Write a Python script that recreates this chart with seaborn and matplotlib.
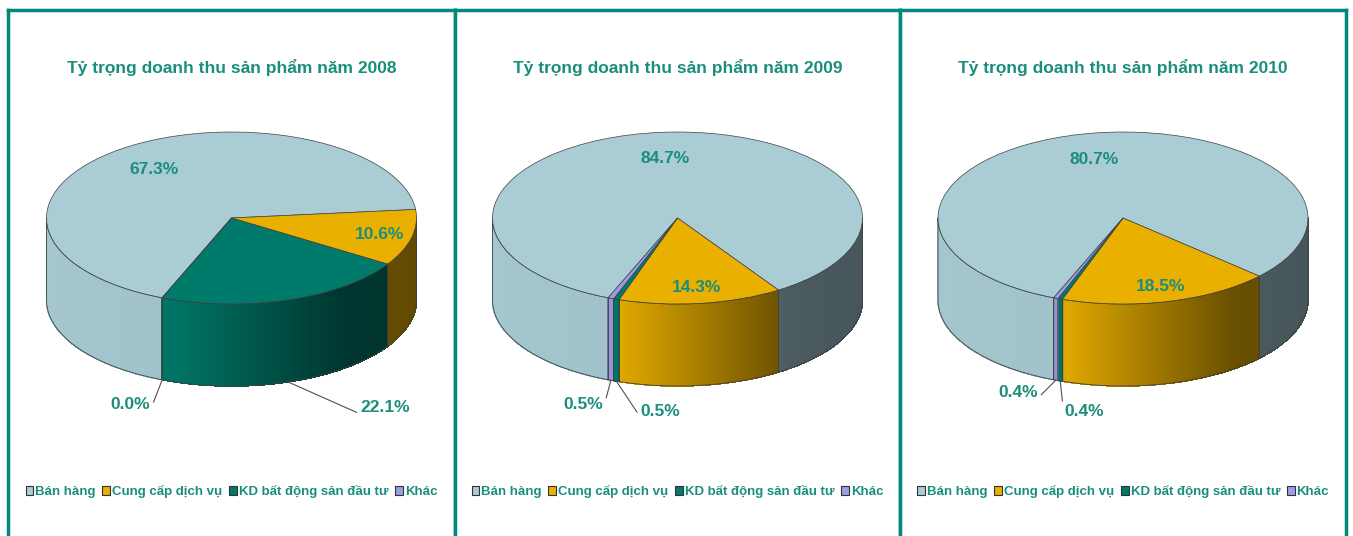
"""
Tỷ trọng doanh thu sản phẩm 2008 - 2010 : trois camemberts 3D côte à côte
"""

import numpy as np
import matplotlib
matplotlib.use("Agg")
import matplotlib.pyplot as plt
import seaborn as sns
from matplotlib.patches import Patch, Polygon
from matplotlib.collections import PolyCollection

# === Données ===
nam = ["2008", "2009", "2010"]
nhom = ["Bán hàng", "Cung cấp dịch vụ", "KD bất động sản đầu tư", "Khác"]
ty_trong_2008 = [67.3, 10.6, 22.1, 0.0]
ty_trong_2009 = [84.7, 14.3, 0.5, 0.5]
ty_trong_2010 = [80.7, 18.5, 0.4, 0.4]
series = [ty_trong_2008, ty_trong_2009, ty_trong_2010]

# === Style ===
mau = ["#A9CCD5", "#EAB000", "#007A6A", "#9C9CE8"]
mau_chu = "#1A8E7D"
mau_khung = "#00897B"

sns.set_theme(style="white")
plt.rcParams["font.family"] = ["Liberation Sans", "DejaVu Sans"]

W, H = 1353, 536
RX, RY = 185.0, 86.0        # rayons de l'ellipse en pixels
CY = 218                    # centre vertical des camemberts (px depuis le haut)
TOP = 10
DEPTH = 82 / RY             # épaisseur du camembert
START = 248
panels = [(8, 455), (455, 900), (900, 1346)]

# rayon des étiquettes internes, décalages des étiquettes externes (px)
r_nhan = [0.70, 0.82]
leader = {
    "2008": [(72, -26), (-12, -25)],
    "2009": [(24, -30), (-8, -24)],
    "2010": [(4, -31), (-18, -12)],
}


def shade(x):
    return np.interp(x, [-1, -0.3, 0.6, 1], [0.97, 0.95, 0.45, 0.42])


fig = plt.figure(figsize=(W / 100, H / 100), dpi=100)

for i, (year, vals) in enumerate(zip(nam, series)):
    x0, x1 = panels[i]
    ax = fig.add_axes([x0 / W, 0, (x1 - x0) / W, (H - TOP) / H])

    # angles de chaque part (sens horaire depuis START)
    fr = np.array(vals) / sum(vals)
    bornes = START - 360 * np.concatenate([[0], np.cumsum(fr)])

    # --- parois latérales (partie avant) ---
    for k in range(len(vals)):
        hi, lo = bornes[k], bornes[k + 1]
        if hi - lo <= 0:
            continue
        base = np.array(matplotlib.colors.to_rgb(mau[k]))
        for s in (-360, 0, 360):
            a, b = max(lo, 180 + s), min(hi, 360 + s)
            if b <= a:
                continue
            th = np.radians(np.linspace(a, b, max(int((b - a) * 2), 2)))
            xs, ys = np.cos(th), np.sin(th)
            polys, cols = [], []
            for j in range(len(th) - 1):
                polys.append([(xs[j], ys[j]), (xs[j + 1], ys[j + 1]),
                              (xs[j + 1], ys[j + 1] - DEPTH), (xs[j], ys[j] - DEPTH)])
                cols.append(np.clip(base * shade((xs[j] + xs[j + 1]) / 2), 0, 1))
            ax.add_collection(PolyCollection(polys, facecolors=cols, edgecolors=cols,
                                             linewidths=0.5, antialiaseds=False, zorder=1))
            contour = list(zip(xs, ys)) + list(zip(xs[::-1], ys[::-1] - DEPTH))
            ax.add_patch(Polygon(contour, closed=True, fill=False,
                                 edgecolor="#404040", linewidth=0.6, zorder=2))

    # --- dessus ---
    wedges, _ = ax.pie(vals, colors=mau, startangle=START, counterclock=False,
                       radius=1, wedgeprops=dict(edgecolor="#404040", linewidth=0.5))
    for w in wedges:
        w.set_zorder(3)

    ax.set_aspect("auto")
    ax.set_frame_on(True)
    ax.set_xticks([])
    ax.set_yticks([])
    ax.set_xlim(-(x1 - x0) / 2 / RX, (x1 - x0) / 2 / RX)
    ax.set_ylim(-(H - CY) / RY, (CY - TOP) / RY)

    # --- étiquettes ---
    for k, v in enumerate(vals):
        mid = np.radians((bornes[k] + bornes[k + 1]) / 2)
        txt = f"{v:.1f}%"
        if k < 2:
            ax.text(r_nhan[k] * np.cos(mid), r_nhan[k] * np.sin(mid), txt,
                    ha="center", va="center", color=mau_chu, fontsize=12.5,
                    fontweight="bold", zorder=5)
        else:
            dx, dy = leader[year][k - 2]
            ax.annotate(txt, xy=(np.cos(mid), np.sin(mid) - DEPTH),
                        xytext=(dx, dy), textcoords="offset pixels",
                        ha="left" if dx > 0 else "right", va="center",
                        color=mau_chu, fontsize=12.5, fontweight="bold", zorder=5,
                        arrowprops=dict(arrowstyle="-", color="#505050", lw=0.8,
                                        shrinkA=0, shrinkB=0,
                                        relpos=(0, 0.1) if dx > 0 else (1, 0.1)))

    ax.text(0.5, 0.89, f"Tỷ trọng doanh thu sản phẩm năm {year}", transform=ax.transAxes,
            ha="center", va="center", color=mau_chu, fontsize=12.5, fontweight="bold")

    handles = [Patch(facecolor=c, edgecolor="#333333", linewidth=0.8) for c in mau]
    leg = ax.legend(handles, nhom, loc="center", bbox_to_anchor=(0.5, 0.084), ncol=4,
                    frameon=False, handlelength=0.6, handleheight=0.6, handletextpad=0.15,
                    columnspacing=0.5, borderaxespad=0, borderpad=0,
                    prop=dict(size=9.5, weight="bold"))
    for t in leg.get_texts():
        t.set_color(mau_chu)

    for side in ["left", "right", "top"]:
        ax.spines[side].set_visible(True)
        ax.spines[side].set_color(mau_khung)
        ax.spines[side].set_linewidth(2.5)
    ax.spines["bottom"].set_visible(False)

fig.savefig("out.png", dpi=100, facecolor="white")
